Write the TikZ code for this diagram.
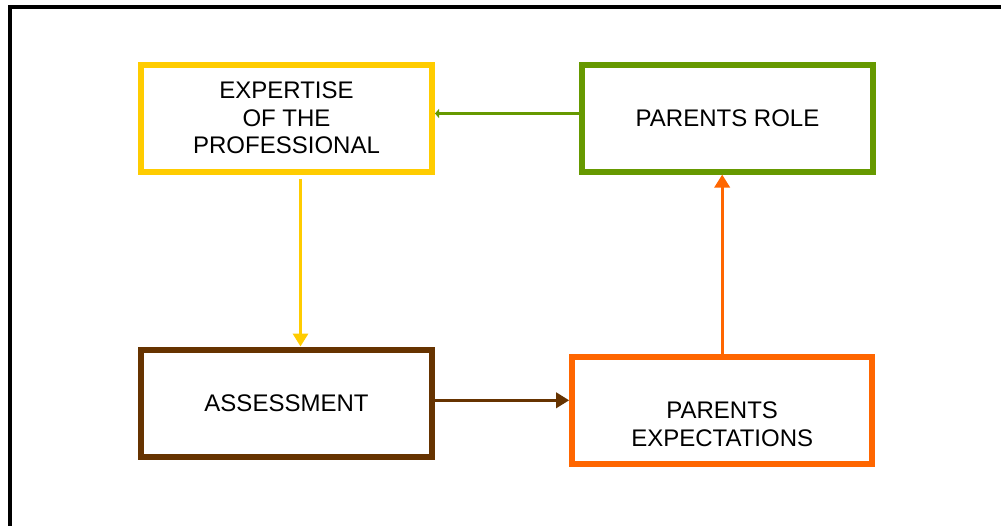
\documentclass[tikz,border=0pt]{standalone}
\usepackage{fontspec}
\setmainfont{Liberation Sans}
\usepackage{xcolor}
\usetikzlibrary{arrows.meta, positioning}
\definecolor{gold}{HTML}{FFCC00}
\definecolor{leaf}{HTML}{669900}
\definecolor{umber}{HTML}{663300}
\definecolor{tangerine}{HTML}{FF6600}
\tikzset{
	box/.style={rectangle, draw, line width=6pt, minimum width=291pt, minimum height=107pt, align=center, font=\fontsize{24pt}{27.6pt}\selectfont},
	link/.style={line width=3.4pt}
}

\begin{document}
\begin{tikzpicture}[
	x=1pt, y=-1pt,
	node distance=172pt,
	tip/.style={-{Triangle[length=13pt,width=15pt]}}]
	\useasboundingbox (0,0) rectangle (1001,525);
	\draw[line width=4.5pt] (10,535) -- (10,7) -- (1012,7);
	\node[box, draw=gold] (expertise) at (286.5,118) {EXPERTISE\\OF THE\\PROFESSIONAL};
	\node[box, draw=leaf, right=144pt of expertise] (role) {PARENTS ROLE};
	\node[box, draw=umber, below=172pt of expertise] (assessment) {ASSESSMENT};
	\node[box, draw=tangerine, minimum width=300pt] (expect) at (722.2,410.3) {\rule{0pt}{45pt}PARENTS\\EXPECTATIONS};
	\draw[link, leaf, -{Triangle[length=4pt,width=9pt]}] ([yshift=4.5pt]role.west) -- ([yshift=4.5pt]expertise.east);
	\draw[link, gold, tip] ([xshift=14pt,yshift=-4pt]expertise.south) -- ([xshift=14pt]assessment.north);
	\draw[link, umber, tip] ([yshift=2.7pt]assessment.east) -- ([yshift=2.7pt]assessment.east -| expect.west);
	\draw[link, tangerine, tip] (expect.north) -- (expect.north |- role.south);
\end{tikzpicture}
\end{document}
